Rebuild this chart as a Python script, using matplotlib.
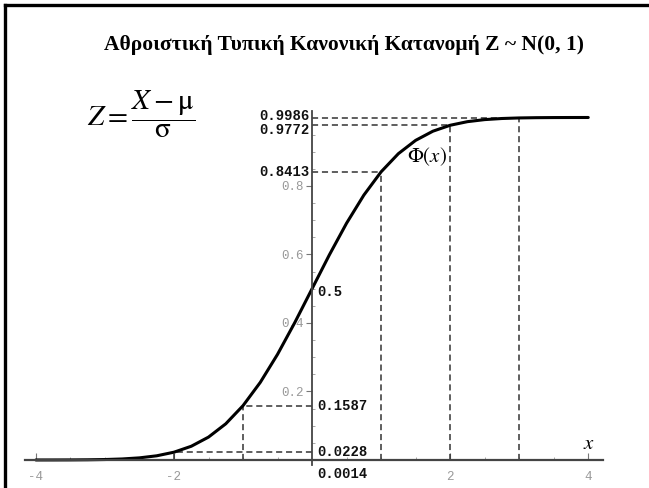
import numpy as np
import matplotlib
matplotlib.use("Agg")
import matplotlib.pyplot as plt
from matplotlib.lines import Line2D
from matplotlib.ticker import FixedLocator

plt.rcParams['mathtext.fontset'] = 'stix'

# standard normal CDF, table values read at 0.25 steps
x_vals = [-4.0, -3.75, -3.5, -3.25, -3.0, -2.75, -2.5, -2.25, -2.0, -1.75, -1.5,
          -1.25, -1.0, -0.75, -0.5, -0.25, 0.0, 0.25, 0.5, 0.75, 1.0, 1.25,
          1.5, 1.75, 2.0, 2.25, 2.5, 2.75, 3.0, 3.25, 3.5, 3.75, 4.0]
phi_vals = [0.00003, 0.00009, 0.00023, 0.00058, 0.00135, 0.00298, 0.00621,
            0.01222, 0.02275, 0.04006, 0.06681, 0.10565, 0.15866, 0.22663,
            0.30854, 0.40129, 0.5, 0.59871, 0.69146, 0.77337, 0.84134,
            0.89435, 0.93319, 0.95994, 0.97725, 0.98778, 0.99379, 0.99702,
            0.99865, 0.99942, 0.99977, 0.99991, 0.99997]

# marked points
mark_x = [-3, -2, -1, 1, 2, 3]
mark_y = [0.0014, 0.0228, 0.1587, 0.8413, 0.9772, 0.9986]
mark_txt = ['0.0014', '0.0228', '0.1587', '0.8413', '0.9772', '0.9986']

xtick_vals = [-4, -2, 2, 4]
ytick_vals = [0.2, 0.4, 0.6, 0.8]
xminor = [-3.5, -3, -2.5, -1.5, -1, -0.5, 0.5, 1, 1.5, 2.5, 3, 3.5]
yminor = [0.05, 0.1, 0.15, 0.25, 0.3, 0.35, 0.45, 0.5, 0.55, 0.65, 0.7,
          0.75, 0.85, 0.9, 0.95]

title = 'Αθροιστική Τυπική Κανονική Κατανομή Z ~ N(0, 1)'

fig = plt.figure(figsize=(6.49, 4.88), dpi=100)
ax = fig.add_axes([0, 0, 1, 1])
ax.set_xlim(-4.52, 4.88)
ax.set_ylim(-0.0818, 1.343)
ax.patch.set_alpha(0)

for s in ['top', 'right']:
    ax.spines[s].set_visible(False)
ax.spines['left'].set_position(('data', 0))
ax.spines['bottom'].set_position(('data', 0))
ax.spines['left'].set_bounds(-0.015, 1.02)
ax.spines['bottom'].set_bounds(-4.16, 4.22)
ax.spines['left'].set_color('#444444')
ax.spines['bottom'].set_color('#444444')
ax.spines['left'].set_linewidth(1.3)
ax.spines['bottom'].set_linewidth(1.6)

ax.set_xticks(xtick_vals)
ax.set_xticklabels([str(v) for v in xtick_vals])
ax.xaxis.set_minor_locator(FixedLocator(xminor))
ax.set_yticks(ytick_vals)
ax.set_yticklabels([str(v) for v in ytick_vals])
ax.yaxis.set_minor_locator(FixedLocator(yminor))
ax.tick_params(axis='x', which='major', direction='in', length=5, width=0.8,
               color='#777777', labelcolor='#999999', labelsize=9, pad=8)
ax.tick_params(axis='x', which='minor', direction='in', length=2.5, width=0.6,
               color='#999999')
ax.tick_params(axis='y', which='major', direction='out', length=4, width=0.8,
               color='#777777', labelcolor='#999999', labelsize=9, pad=2)
ax.tick_params(axis='y', which='minor', direction='in', length=2.5, width=0.6,
               color='#999999')
for lab in ax.get_xticklabels() + ax.get_yticklabels():
    lab.set_family('Liberation Mono')

# dashed guide lines
for mx, my in zip(mark_x, mark_y):
    ax.plot([0, mx], [my, my], ls=(0, (4, 2.5)), color='#333333', lw=1.1)
    ax.plot([mx, mx], [0, my], ls=(0, (4, 2.5)), color='#333333', lw=1.1)

ax.plot(x_vals, phi_vals, color='black', lw=2.2, solid_capstyle='round')

# bold value labels
mono = dict(family='Liberation Mono', weight='bold', fontsize=10, color='#111111')
for mx, my, t in zip(mark_x, mark_y, mark_txt):
    if mx > 0:
        yy = my
        if t == '0.9986':
            yy = my + 0.007
        if t == '0.9772':
            yy = my - 0.013
        ax.text(-0.04, yy, t, ha='right', va='center', **mono)
    elif t == '0.0014':
        ax.text(0.08, -0.04, t, ha='left', va='center', **mono)
    else:
        ax.text(0.08, my, t, ha='left', va='center', **mono)
ax.text(0.08, 0.5 - 0.01, '0.5', ha='left', va='center', **mono)

ax.text(1.38, 0.885, r'$\Phi(x)$', fontsize=15, ha='left', va='center')
ax.text(4.01, 0.05, r'$x$', fontsize=15, ha='center', va='center')

fig.text(0.217, 0.766, r'$Z=\dfrac{X-\mathrm{\mu}}{\mathrm{\sigma}}$',
         fontsize=21, ha='center', va='center')
fig.text(0.53, 0.907, title, family='Liberation Serif', weight='bold',
         fontsize=15.5, ha='center', va='center')

# slide frame (top and left edges)
fig.add_artist(Line2D([5 / 649, 1], [1 - 5 / 488, 1 - 5 / 488],
                      transform=fig.transFigure, color='black', lw=2.4))
fig.add_artist(Line2D([5 / 649, 5 / 649], [0, 1 - 5 / 488],
                      transform=fig.transFigure, color='black', lw=2.4))

fig.savefig('out.png', dpi=100, facecolor='white')
